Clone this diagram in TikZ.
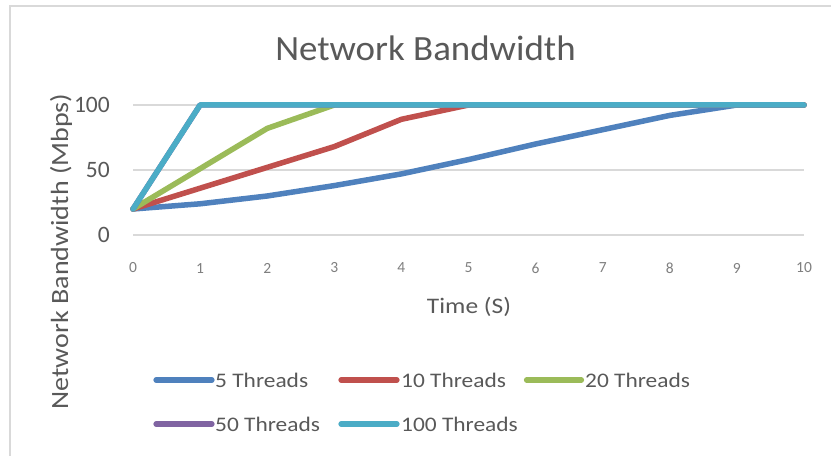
\documentclass[tikz,border=0pt]{standalone}
\usepackage{fontspec}
\setmainfont{Carlito}
\newfontfamily\titlefont[FakeStretch=1.04]{Carlito}
\newfontfamily\widefont[FakeStretch=1.13]{Carlito}
\newfontfamily\timefont[FakeStretch=1.145]{Carlito}

\definecolor{txt}{HTML}{595959}
\definecolor{ticktxt}{HTML}{7F7F7F}
\definecolor{gridgray}{HTML}{D9D9D9}
\definecolor{sBlue}{HTML}{4F81BD}
\definecolor{sRed}{HTML}{C0504D}
\definecolor{sGreen}{HTML}{9BBB59}
\definecolor{sPurple}{HTML}{8064A2}
\definecolor{sAqua}{HTML}{4BACC6}

\tikzset{
  frameline/.style={draw=gridgray, line width=1.5bp},
  gridline/.style={draw=gridgray, line width=1.6bp},
  series/.style={line width=5.5bp, line join=round, line cap=round},
  legline/.style={line width=5.2bp, line cap=round},
  titletext/.style={inner sep=0pt, anchor=base, text=txt,
    font=\titlefont\fontsize{35.5bp}{40bp}\selectfont},
  ytick/.style={inner sep=0pt, anchor=east, text=txt,
    font=\fontsize{23.5bp}{26bp}\selectfont},
  xtick/.style={inner sep=0pt, anchor=center, text=ticktxt,
    font=\fontsize{15.5bp}{18bp}\selectfont},
  ytitle/.style={inner sep=0pt, anchor=base, rotate=90, text=txt,
    font=\widefont\fontsize{24.8bp}{28bp}\selectfont},
  xtitle/.style={inner sep=0pt, anchor=base, text=txt,
    font=\timefont\fontsize{22.2bp}{26bp}\selectfont},
  legtext/.style={inner sep=0pt, anchor=west, text=txt,
    font=\widefont\fontsize{20.7bp}{24bp}\selectfont},
}

\begin{document}
\begin{tikzpicture}[x=1bp, y=-1bp]
  \useasboundingbox (0,0) rectangle (831,456);
  \fill[white] (0,0) rectangle (831,456);
  \clip (0,0) rectangle (831,456);

  % chart frame (its right and bottom edges lie outside the page)
  \draw[frameline] (10,6) rectangle (850,475);

  % title
  \node[titletext] (title) at (425.5,61) {Network Bandwidth};

  % plot area: x in seconds, y in Mbps
  \begin{scope}[shift={(133,235)}, x=67.1bp, y=1.3bp]
    \foreach \v in {0,50,100} {
      \draw[gridline] (0,\v) -- (10,\v);
      \node[ytick] (ytick\v) at (-0.343,\v) {\v};
    }
    \foreach \i in {0,...,10}
      \node[xtick] (xtick\i) at (\i,-25.4) {\i};

    % 5 threads
    \draw[series, sBlue] (0,20) -- (1,24) -- (2,30) -- (3,38) -- (4,47)
      -- (5,58) -- (6,70) -- (7,81) -- (8,92) -- (9,100) -- (10,100);
    % 10 threads
    \draw[series, sRed] (0,20) -- (1,36) -- (2,52) -- (3,68) -- (4,89)
      -- (5,100) -- (10,100);
    % 20 threads
    \draw[series, sGreen] (0,20) -- (1,51) -- (2,82) -- (3,100) -- (10,100);
    % 50 threads
    \draw[series, sPurple] (0,20) -- (1,100) -- (10,100);
    % 100 threads
    \draw[series, sAqua] (0,20) -- (1,100) -- (10,100);
  \end{scope}

  % axis titles
  \node[ytitle] (ytitle) at (68,251.5) {Network Bandwidth (Mbps)};
  \node[xtitle] (xtitle) at (469,314) {Time (S)};

  % legend
  \coordinate (k5a) at (156,380);   \coordinate (k5b) at (212,380);
  \coordinate (k10a) at (341,380);  \coordinate (k10b) at (397,380);
  \coordinate (k20a) at (526.5,380);\coordinate (k20b) at (581.5,380);
  \coordinate (k50a) at (156,424);  \coordinate (k50b) at (212,424);
  \coordinate (k100a) at (341,424); \coordinate (k100b) at (397,424);

  \draw[legline, sBlue]   (k5a) -- (k5b);
  \draw[legline, sRed]    (k10a) -- (k10b);
  \draw[legline, sGreen]  (k20a) -- (k20b);
  \draw[legline, sPurple] (k50a) -- (k50b);
  \draw[legline, sAqua]   (k100a) -- (k100b);

  \node[legtext] (t5)   at (215,380)   {5 Threads};
  \node[legtext] (t10)  at (401,380)   {10 Threads};
  \node[legtext] (t20)  at (585,380)   {20 Threads};
  \node[legtext] (t50)  at (215,424)   {50 Threads};
  \node[legtext] (t100) at (401,424)   {100 Threads};
\end{tikzpicture}
\end{document}
